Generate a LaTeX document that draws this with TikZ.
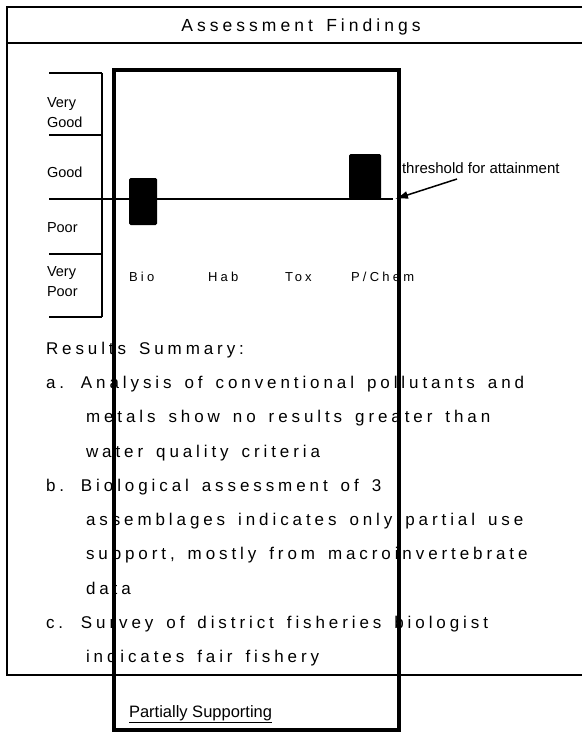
\documentclass[tikz,border=0pt]{standalone}
\usepackage{fontspec}
\setmainfont{Liberation Sans}
\newfontfamily\spaced[LetterSpace=23,WordSpace=1.5]{Liberation Sans}
\newfontfamily\axisfont[LetterSpace=25]{Liberation Sans}
\usetikzlibrary{arrows.meta,positioning}

\tikzset{
  summary/.style={anchor=west, inner sep=0pt, text height=12.2pt, text depth=0pt,
    font=\spaced\fontsize{17}{20}\selectfont},
  rating/.style={anchor=west, inner sep=0pt, align=left,
    font=\fontsize{14.5}{20}\selectfont},
  axislabel/.style={anchor=west, inner sep=0pt, text height=9.5pt, text depth=0pt,
    font=\axisfont\fontsize{13}{15}\selectfont},
  bar/.style={fill=black, rounded corners=1.5pt},
}

\begin{document}
\begin{tikzpicture}[x=1pt, y=-1pt, line width=2pt, >={Latex[length=13pt,width=8pt]}]
    \useasboundingbox (0,0) rectangle (582,733);
    % outer frame and title
    \draw (582,7) -- (7,7) -- (7,675) -- (582,675);
    \draw (7,43) -- (582,43);
    \node[font=\spaced\fontsize{17.5}{20}\selectfont, inner sep=0pt, text height=12.6pt, text depth=0pt] (title) at (301,25) {Assessment Findings};

    % rating scale
    \draw (102,73) -- (102,317);
    \foreach \y in {73,135,254,317}
      \draw (49,\y) -- (102,\y);
    \node[rating] (vgood) at (46,113) {Very\\Good};
    \node[rating] (good) at (46,172) {Good};
    \node[rating] (poor) at (46,228) {Poor};
    \node[rating] (vpoor) at (46,282) {Very\\Poor};

    % threshold line and bars
    \coordinate (thrstart) at (49,199);
    \coordinate (thrend) at (393,199);
    \draw (thrstart) -- (thrend);
    \fill[bar] (129,178) rectangle (157,225);
    \fill[bar] (349,154) rectangle (381,199);
    \node[anchor=west, inner sep=0pt, font=\fontsize{15}{18}\selectfont] (thr) at (401,168) {threshold for attainment};
    \coordinate (tail) at (457,179);
    \draw[->, line width=1.5pt] (tail) -- ([xshift=2pt]thrend);

    % categories
    \node[axislabel] (bio) at (128,277) {Bio};
    \node[axislabel] (hab) at (207,277) {Hab};
    \node[axislabel] (tox) at (284,277) {Tox};
    \node[axislabel] (pchem) at (350,277) {P/Chem};

    % results summary
    \node[summary] (res) at (45,348) {Results Summary:};
    \node[summary, below=34.3pt of res.west, anchor=west] (a1) {\makebox[35pt][l]{a.}Analysis of conventional pollutants and};
    \node[summary, below=34.3pt of a1.west, anchor=west, xshift=40pt] (a2) {metals show no results greater than};
    \node[summary, below=34.3pt of a2.west, anchor=west] (a3) {water quality criteria};
    \node[summary, below=34.3pt of a3.west, anchor=west, xshift=-40pt] (b1) {\makebox[35pt][l]{b.}Biological assessment of 3};
    \node[summary, below=34.3pt of b1.west, anchor=west, xshift=40pt] (b2) {assemblages indicates only partial use};
    \node[summary, below=34.3pt of b2.west, anchor=west] (b3) {support, mostly from macroinvertebrate};
    \node[summary, below=34.3pt of b3.west, anchor=west] (b4) {data};
    \node[summary, below=34.3pt of b4.west, anchor=west, xshift=-40pt] (c1) {\makebox[35pt][l]{c.}Survey of district fisheries biologist};
    \node[summary, below=34.3pt of c1.west, anchor=west, xshift=40pt] (c2) {indicates fair fishery};

    % use support box
    \node[anchor=west, inner sep=0pt, font=\fontsize{16.5}{18}\selectfont] (status) at (128,714) {\underline{Partially Supporting}};
    \draw[line width=4pt] (114,70) rectangle (399,730);
  \end{tikzpicture}
\end{document}
